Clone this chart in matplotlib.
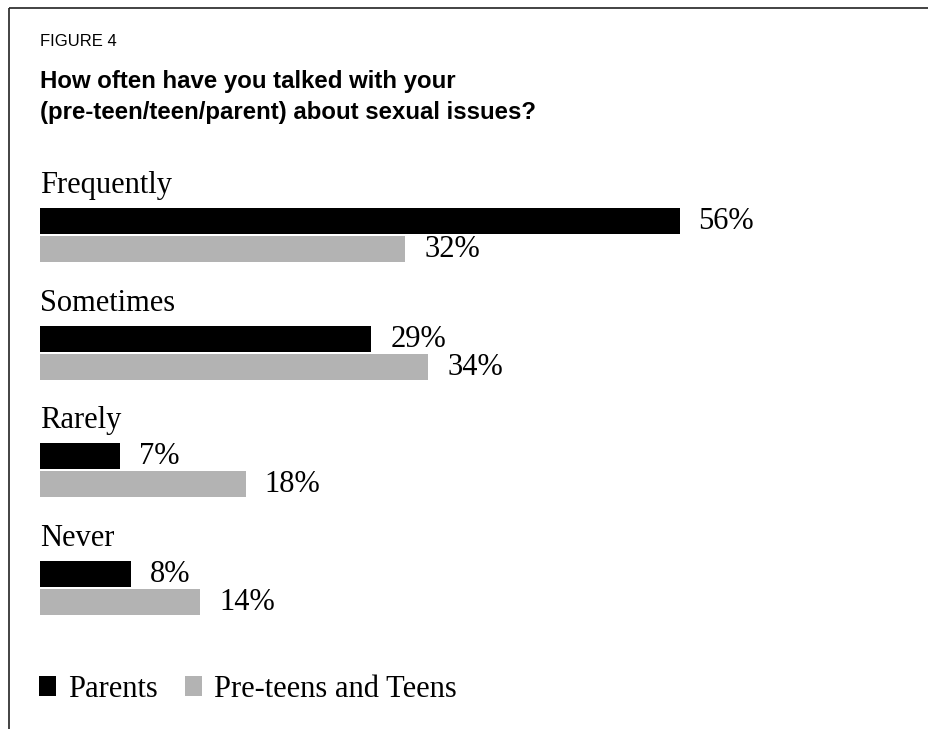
import matplotlib
matplotlib.use("Agg")
import matplotlib.pyplot as plt
from matplotlib.lines import Line2D
from matplotlib.patches import Patch

# survey answers, percent of respondents
categories = ["Frequently", "Sometimes", "Rarely", "Never"]
parents = [56, 29, 7, 8]
teens = [32, 34, 18, 14]
series_names = ["Parents", "Pre-teens and Teens"]

fig_title_tag = "FIGURE 4"
fig_title = ("How often have you talked with your\n"
             "(pre-teen/teen/parent) about sexual issues?")

W, H, DPI = 929, 729, 100
BLACK, GREY = "#000000", "#b3b3b3"
SERIF = ["Liberation Serif", "DejaVu Serif"]
SANS = ["Liberation Sans", "DejaVu Sans"]

fig = plt.figure(figsize=(W / DPI, H / DPI), dpi=DPI)
fig.patch.set_facecolor("white")

# pixel helpers for placing things on the page
def fx(px):
    return px / W

def fy(py):
    return 1 - py / H

# bar area: 0% sits at x=40px, ~11.4px per percent, groups ~118px apart
left_px, right_px, top_px, bottom_px = 40, 900, 150, 650
px_per_pct = 11.42
group_px = 117.7
ax = fig.add_axes([fx(left_px), fy(bottom_px), fx(right_px - left_px),
                   (bottom_px - top_px) / H])
ax.set_xlim(0, (right_px - left_px) / px_per_pct)
y_top = -(221 - top_px) / group_px
y_bot = 3 + (bottom_px - 574) / group_px
ax.set_ylim(y_bot, y_top)
ax.axis("off")

bar_h = 26 / group_px
offset = 28 / group_px
ys = list(range(len(categories)))
ys_teen = [y + offset for y in ys]

ax.barh(ys, parents, height=bar_h, color=BLACK, label=series_names[0])
ax.barh(ys_teen, teens, height=bar_h, color=GREY, label=series_names[1])

for y, cat in zip(ys, categories):
    ax.annotate(cat, xy=(0, y - bar_h / 2), xytext=(0, 15),
                textcoords="offset pixels", ha="left", va="baseline",
                fontsize=22, family=SERIF, color="black")

for yy, vals in ((ys, parents), (ys_teen, teens)):
    for y, v in zip(yy, vals):
        ax.annotate(f"{v}%", xy=(v, y + bar_h / 2), xytext=(19, 5),
                    textcoords="offset pixels", ha="left", va="baseline",
                    fontsize=22, family=SERIF, color="black")

# headings
fig.text(fx(40), fy(46), fig_title_tag, ha="left", va="baseline",
         fontsize=12, family=SANS)
fig.text(fx(40), fy(119), fig_title, ha="left", va="baseline",
         fontsize=17.3, fontweight="bold", family=SANS, linespacing=1.42)

# legend along the bottom
handles = [Patch(facecolor=BLACK, edgecolor="none"),
           Patch(facecolor=GREY, edgecolor="none")]
fig.legend(handles, series_names, loc="lower left",
           bbox_to_anchor=(fx(39), fy(704)), ncol=2, frameon=False,
           prop={"family": SERIF, "size": 22}, borderpad=0, borderaxespad=0,
           handlelength=0.55, handleheight=0.62, handletextpad=0.4,
           columnspacing=0.9)

# open frame: top rule and left rule only
fig.add_artist(Line2D([fx(9.5), 1], [fy(7.5), fy(7.5)], color="#222222",
                      lw=1.2, solid_capstyle="butt"))
fig.add_artist(Line2D([fx(9.5), fx(9.5)], [fy(7.5), 0], color="#222222",
                      lw=1.2, solid_capstyle="butt"))

fig.savefig("out.png", dpi=DPI, facecolor="white")
